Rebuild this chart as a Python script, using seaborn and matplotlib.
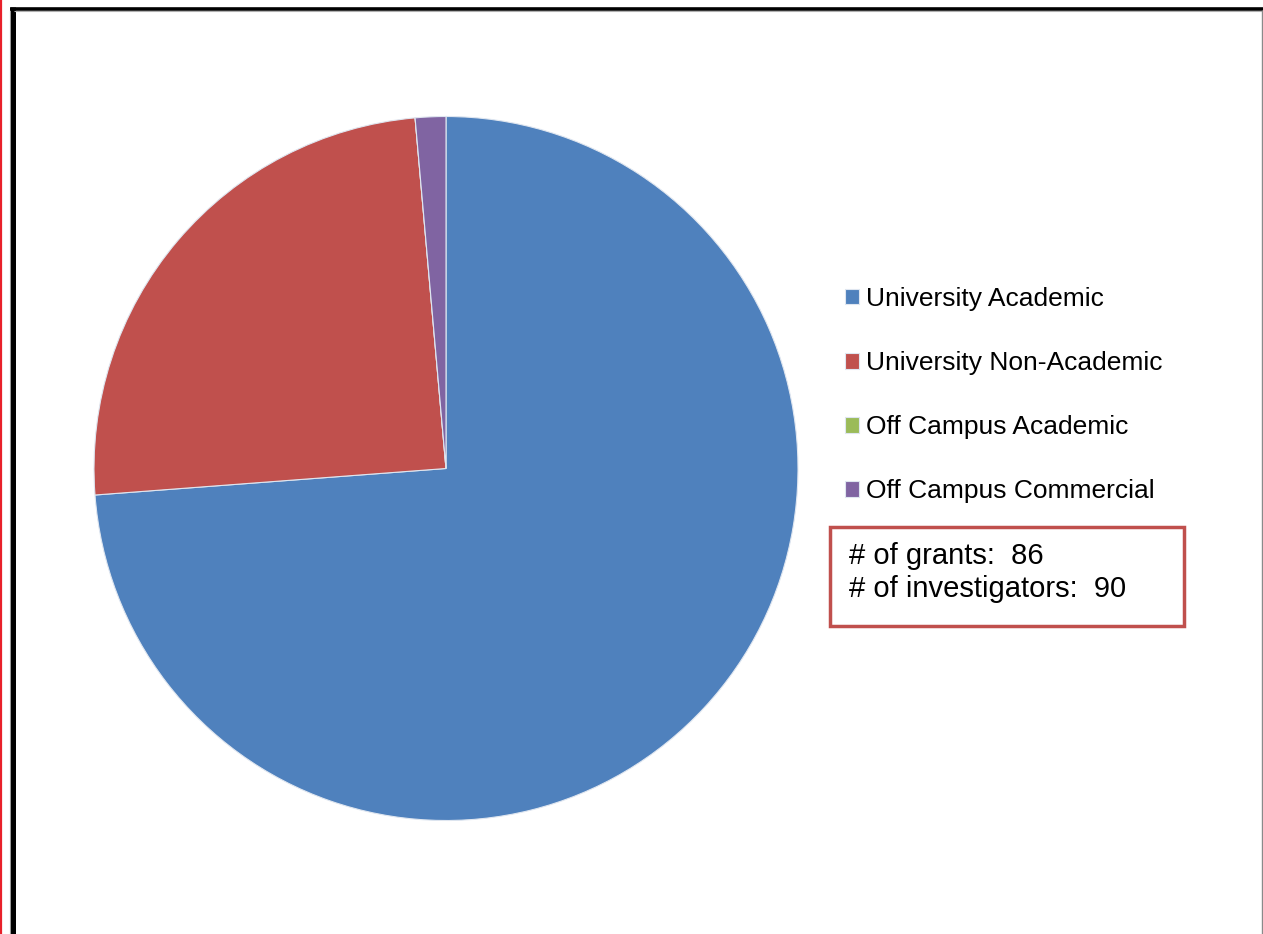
import matplotlib
matplotlib.use("Agg")
import matplotlib.pyplot as plt
from matplotlib.patches import Rectangle
from matplotlib.lines import Line2D
import seaborn as sns

# Share of grants by investigator affiliation (percent)
categories = ["University Academic", "University Non-Academic",
              "Off Campus Academic", "Off Campus Commercial"]
grant_share = [73.8, 24.8, 0.0, 1.4]
summary_lines = ["# of grants:  86", "# of investigators:  90"]
slice_colors = ["#4F81BD", "#C0504D", "#9BBB59", "#8064A2"]

sns.set_theme(style="white")
plt.rcParams["font.family"] = ["Liberation Sans", "DejaVu Sans"]

W, H = 1263, 934
fig = plt.figure(figsize=(W / 100, H / 100), dpi=100)
fig.patch.set_facecolor("white")

def fx(px):
    return px / W

def fy(py):
    return 1 - py / H

# Pie axes: center (446, 468.5), radius 352 px
cx, cy, r = 446, 468.5, 352
ax = fig.add_axes([fx(cx - r), fy(cy + r), 2 * r / W, 2 * r / H])
palette = sns.color_palette(slice_colors)
wedges, _ = ax.pie(grant_share, colors=palette, startangle=90,
                   counterclock=False, radius=1,
                   wedgeprops=dict(edgecolor="#dfe6f0", linewidth=0.8))
ax.set_xlim(-1, 1)
ax.set_ylim(-1, 1)
ax.set_aspect("auto")
ax.axis("off")

# Legend to the right of the pie
fs_leg = 19
fig.legend(wedges, categories, loc="upper left",
           bbox_to_anchor=(fx(845), fy(287)), bbox_transform=fig.transFigure,
           frameon=False, fontsize=fs_leg, handlelength=0.53, handleheight=0.53,
           handletextpad=0.27, labelspacing=1.52, borderpad=0, borderaxespad=0,
           labelcolor="black")

# Summary box
x0, y0, x1, y1 = 830, 527, 1184, 626
fig.patches.append(Rectangle((fx(x0), fy(y1)), fx(x1) - fx(x0), fy(y0) - fy(y1),
                             transform=fig.transFigure, fill=False,
                             edgecolor="#C0504D", linewidth=2.5))
for i, line in enumerate(summary_lines):
    fig.text(fx(849), fy(556 + 33 * i), line, fontsize=21,
             va="center", ha="left", color="black")

# Page frame lines
def vline(x, y0p, y1p, color, lw):
    fig.lines.append(Line2D([fx(x), fx(x)], [fy(y0p), fy(y1p)],
                            transform=fig.transFigure, color=color,
                            linewidth=lw, solid_capstyle="butt"))

def hline(y, x0p, x1p, color, lw):
    fig.lines.append(Line2D([fx(x0p), fx(x1p)], [fy(y), fy(y)],
                            transform=fig.transFigure, color=color,
                            linewidth=lw, solid_capstyle="butt"))

vline(1, 0, H, "#E8202A", 1.6)
vline(9.5, 10, H, "#9a9a9a", 0.8)
vline(12.5, 7, H, "black", 3.6)
hline(8.5, 10, W, "black", 2.6)
hline(10.5, 14, W, "#b0b0b0", 0.8)
vline(1261.5, 10, H, "#8a8a8a", 1.0)

fig.savefig("out.png", dpi=100, facecolor="white")
